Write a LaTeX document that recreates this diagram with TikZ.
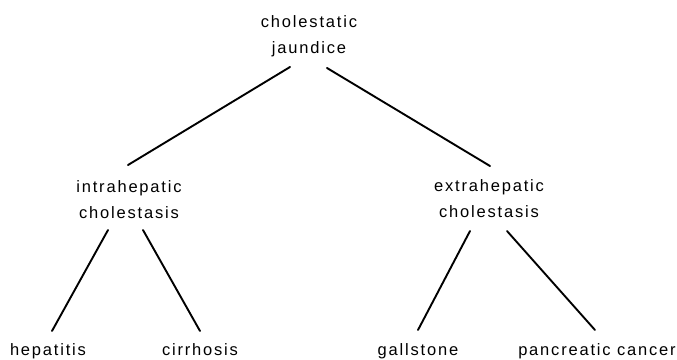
\documentclass[tikz,border=0pt]{standalone}
\usepackage{fontspec}
\setmainfont{Liberation Sans}[LetterSpace=11]
\begin{document}
\begin{tikzpicture}[x=1pt,y=-1pt,
  lbl/.style={font=\fontsize{16.5}{26}\selectfont, inner sep=0pt, align=center, anchor=base},
  edge/.style={line width=1.9pt, line cap=round}]
\useasboundingbox (0,0) rectangle (677,359);
% labels (base anchor = baseline of last line)
\node[lbl] (top) at (309,53) {cholestatic\\jaundice};
\node[lbl] (intra) at (129,218) {intrahepatic\\cholestasis};
\node[lbl] (extra) at (489,217) {extrahepatic\\cholestasis};
\node[lbl] (hep) at (48,355) {hepatitis};
\node[lbl] (cir) at (200,355) {cirrhosis};
\node[lbl] (gal) at (418,355) {gallstone};
\node[lbl] (pan) at (597,355) {pancreatic cancer};
% connector ends
\coordinate (top-l) at (290,67);
\coordinate (top-r) at (327,68);
\coordinate (intra-t) at (128,165);
\coordinate (extra-t) at (490,166);
\coordinate (intra-l) at (108,230);
\coordinate (intra-r) at (143,230);
\coordinate (extra-l) at (470,231);
\coordinate (extra-r) at (507,231);
\coordinate (hep-t) at (52,331);
\coordinate (cir-t) at (200,331);
\coordinate (gal-t) at (418,330);
\coordinate (pan-t) at (595,330);
% connectors
\draw[edge] (top-l) -- (intra-t);
\draw[edge] (top-r) -- (extra-t);
\draw[edge] (intra-l) -- (hep-t);
\draw[edge] (intra-r) -- (cir-t);
\draw[edge] (extra-l) -- (gal-t);
\draw[edge] (extra-r) -- (pan-t);
\end{tikzpicture}
\end{document}
